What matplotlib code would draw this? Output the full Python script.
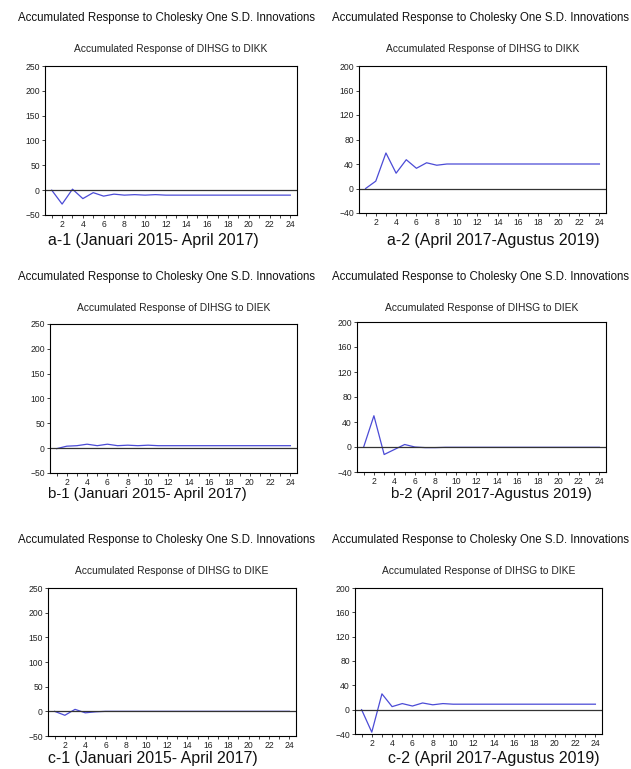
import numpy as np
import matplotlib; matplotlib.use("Agg")
import matplotlib.pyplot as plt

plt.rcParams["font.family"] = ["Liberation Sans", "DejaVu Sans"]

W, H = 631, 769

periods = list(range(1, 25))

# accumulated responses of DIHSG
resp_a1 = [0, -28, 2, -17, -5, -12, -8, -10, -9, -10, -9, -10,
           -10, -10, -10, -10, -10, -10, -10, -10, -10, -10, -10, -10]
resp_a2 = [0, 12, 58, 25, 47, 33, 42, 38, 40, 40, 40, 40,
           40, 40, 40, 40, 40, 40, 40, 40, 40, 40, 40, 40]
resp_b1 = [-1, 4, 5, 8, 5, 8, 5, 6, 5, 6, 5, 5,
           5, 5, 5, 5, 5, 5, 5, 5, 5, 5, 5, 5]
resp_b2 = [0, 50, -12, -4, 4, 0, -1, -1, -0.5, -0.5, -0.5, -0.5,
           -0.5, -0.5, -0.5, -0.5, -0.5, -0.5, -0.5, -0.5, -0.5, -0.5, -0.5, -0.5]
resp_c1 = [0, -8, 4, -3, -1, 0, 0, 0, 0, 0, 0, 0,
           0, 0, 0, 0, 0, 0, 0, 0, 0, 0, 0, 0]
resp_c2 = [0, -37, 26, 5, 10, 6, 11, 8, 10, 9, 9, 9,
           9, 9, 9, 9, 9, 9, 9, 9, 9, 9, 9, 9]

yticks_1 = [-50, 0, 50, 100, 150, 200, 250]
yticks_2 = [-40, 0, 40, 80, 120, 160, 200]

main_title = "Accumulated Response to Cholesky One S.D. Innovations"
shocks = ["DIKK", "DIEK", "DIKE"]
captions = [["a-1 (Januari 2015- April 2017)", "a-2 (April 2017-Agustus 2019)"],
            ["b-1 (Januari 2015- April 2017)", "b-2 (April 2017-Agustus 2019)"],
            ["c-1 (Januari 2015- April 2017)", "c-2 (April 2017-Agustus 2019)"]]

# pixel boxes: left, right, top, bottom
boxes = [[(45, 297, 66, 215), (359, 606, 66, 213)],
         [(50, 297, 324, 473), (357, 606, 322, 472)],
         [(48, 296, 588, 736), (355, 602, 588, 734)]]
title_y = [18, 277, 540]
sub_y = [49, 308, 571]
cap_y = [240, 494, 759]
cap_x = [[48, 387], [48, 391], [48, 388]]
cap_size = [11.4, 10.8, 11.4]
title_x = [166, 480]

series = [[resp_a1, resp_a2], [resp_b1, resp_b2], [resp_c1, resp_c2]]

fig = plt.figure(figsize=(W / 100, H / 100), dpi=100)

for r in range(3):
    for c in range(2):
        l, rt, t, b = boxes[r][c]
        ax = fig.add_axes([l / W, 1 - b / H, (rt - l) / W, (b - t) / H])
        ax.plot(periods, series[r][c], color="#4b4bd6", lw=0.9)
        ax.axhline(0, color="#333333", lw=0.9)
        ticks = yticks_1 if c == 0 else yticks_2
        ax.set_ylim(ticks[0], ticks[-1])
        ax.set_yticks(ticks)
        ax.set_xlim(0.35, 24.65)
        ax.set_xticks(periods)
        ax.set_xticklabels([str(p) if p % 2 == 0 else "" for p in periods])
        ax.tick_params(labelsize=6.2, length=2.5, width=0.6, pad=1.2,
                       colors="#222222")
        for s in ax.spines.values():
            s.set_linewidth(0.8)
        fig.text((l + rt) / 2 / W, 1 - sub_y[r] / H,
                 f"Accumulated Response of DIHSG to {shocks[r]}",
                 ha="center", va="center", fontsize=7.4, color="#222222")
        fig.text(title_x[c] / W, 1 - title_y[r] / H, main_title,
                 ha="center", va="center", fontsize=8.3, color="#111111")
        fig.text(cap_x[r][c] / W, 1 - cap_y[r] / H, captions[r][c],
                 ha="left", va="center", fontsize=cap_size[r], color="#111111")

plt.savefig("out.png", dpi=100)
plt.close()
